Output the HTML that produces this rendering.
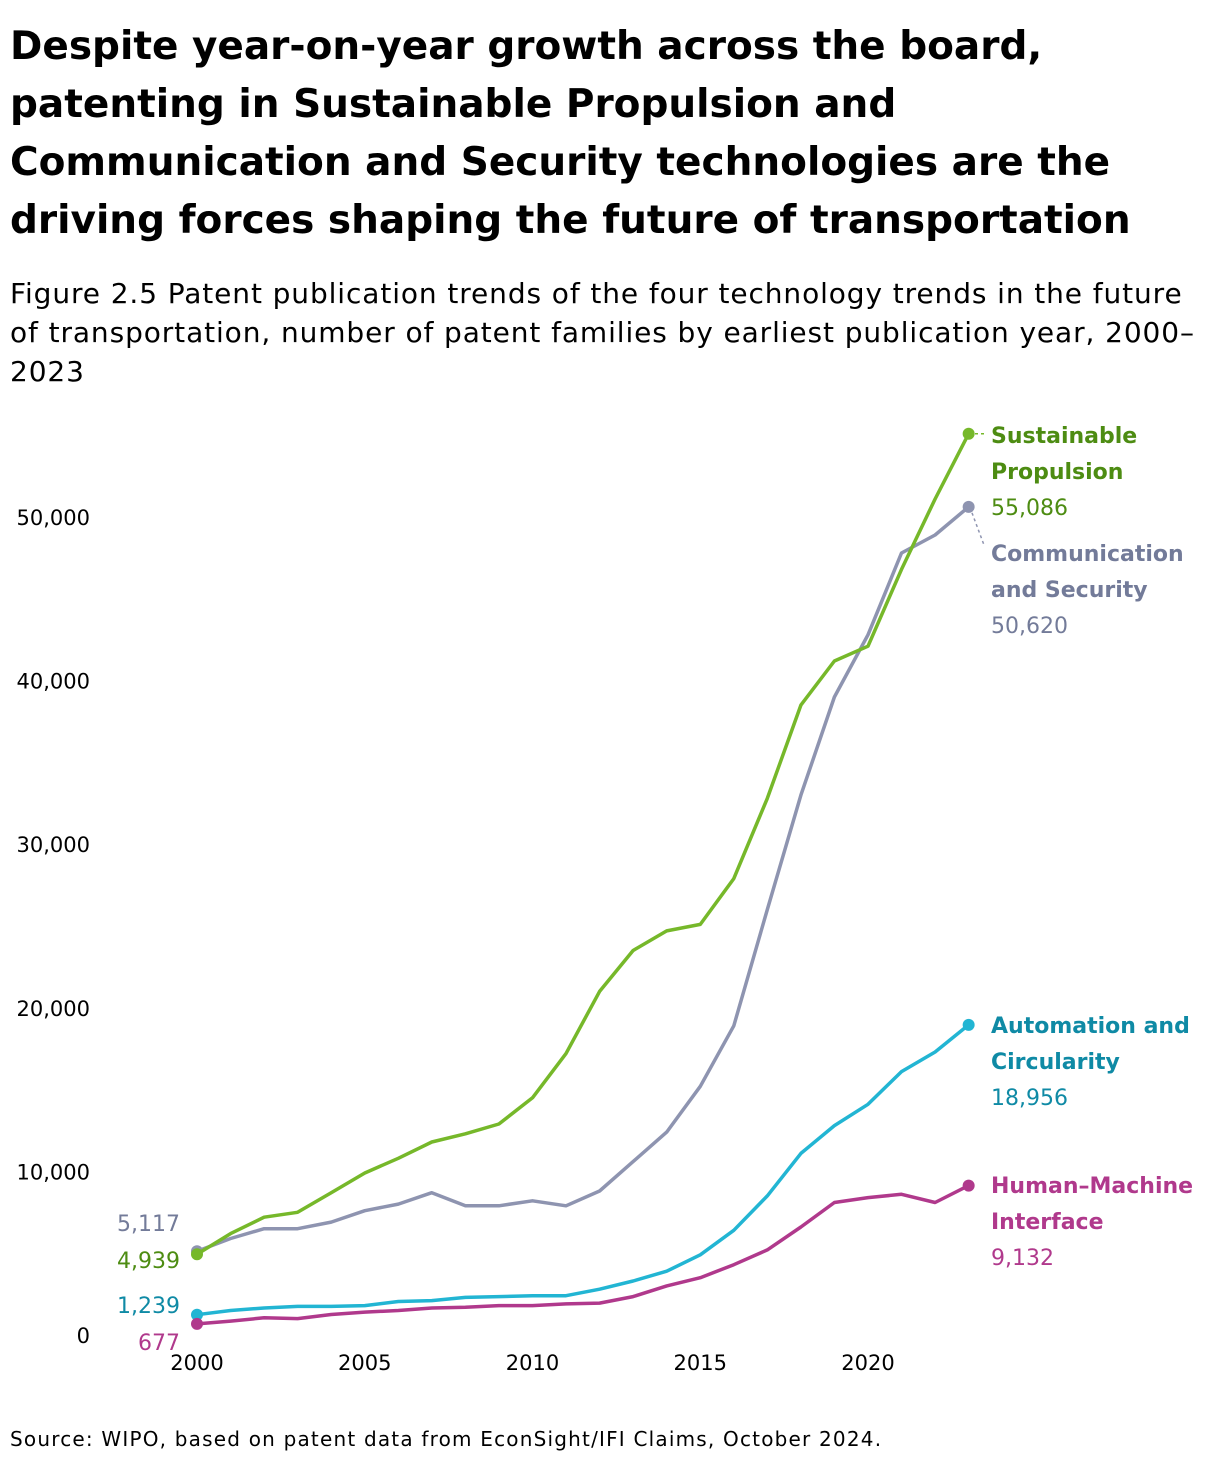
<!DOCTYPE html>
<html><head><meta charset="utf-8">
<style>
html,body{margin:0;padding:0;background:#fff;}
body{width:1220px;height:1466px;position:relative;font-family:"DejaVu Sans","Liberation Sans",sans-serif;color:#000;overflow:hidden;}
#title{position:absolute;left:10px;top:18px;width:1210px;font-size:39px;font-weight:bold;line-height:58px;margin:0;white-space:nowrap;}
#subtitle{position:absolute;left:10px;top:274px;width:1210px;font-size:28px;letter-spacing:0.9px;line-height:39px;margin:0;white-space:nowrap;}
#source{position:absolute;left:10px;top:1427px;font-size:20px;letter-spacing:1.2px;white-space:nowrap;}
svg{position:absolute;left:0;top:0;}
svg text{font-family:"DejaVu Sans","Liberation Sans",sans-serif;}
</style></head><body>
<h1 id="title">Despite year-on-year growth across the board,<br>patenting in Sustainable Propulsion and<br>Communication and Security technologies are the<br>driving forces shaping the future of transportation</h1>
<p id="subtitle">Figure 2.5 Patent publication trends of the four technology trends in the future<br>of transportation, number of patent families by earliest publication year, 2000–<br>2023</p>
<svg id="chart" width="1220" height="1466"></svg>
<div id="source">Source: WIPO, based on patent data from EconSight/IFI Claims, October 2024.</div>
<script>
const years = [2000,2001,2002,2003,2004,2005,2006,2007,2008,2009,2010,2011,2012,2013,2014,2015,2016,2017,2018,2019,2020,2021,2022,2023];
const sustainable = [4939,6200,7200,7500,8700,9900,10800,11800,12300,12900,14500,17200,21000,23500,24700,25100,27900,32800,38500,41200,42100,46800,51100,55086];
const communication = [5117,5900,6500,6500,6900,7600,8000,8700,7900,7900,8200,7900,8800,10600,12400,15200,18900,26000,33000,39000,42800,47800,48900,50620];
const automation = [1239,1500,1650,1750,1750,1800,2050,2100,2300,2350,2400,2400,2800,3300,3900,4900,6400,8500,11100,12800,14100,16100,17300,18956];
const human = [677,850,1050,1000,1250,1400,1500,1650,1700,1800,1800,1900,1950,2350,3000,3500,4300,5200,6600,8100,8400,8600,8100,9132];
const yTicks = [0,10000,20000,30000,40000,50000];
const xTicks = [2000,2005,2010,2015,2020];

const svg = document.getElementById('chart');
const NS = 'http://www.w3.org/2000/svg';
const x = yr => 197 + (yr - 2000) * 33.55;
const y = v => 1335 - v * 0.01636;
const fmt = v => v.toLocaleString('en-US');
function mk(tag, attrs, txt){const e=document.createElementNS(NS,tag);for(const k in attrs)e.setAttribute(k,attrs[k]);if(txt!==undefined)e.textContent=txt;svg.appendChild(e);return e;}

yTicks.forEach(t=>{
  const e=mk('text',{x:90,y:y(t)+8,'text-anchor':'end','font-size':21,fill:'#000'},fmt(t));
  
  
});
xTicks.forEach(t=>{
  const e=mk('text',{x:x(t),y:1370,'text-anchor':'middle','font-size':21,fill:'#000'},t);
  
  
});

const series = [
  {name:'communication',vals:communication,line:'#8e94b0',lab:'#737b99',title:['Communication','and Security'],ty:561,startY:1231},
  {name:'sustainable',vals:sustainable,line:'#76b82a',lab:'#4d8c12',title:['Sustainable','Propulsion'],ty:443,startY:1268},
  {name:'automation',vals:automation,line:'#22b5d3',lab:'#0f8aa5',title:['Automation and','Circularity'],ty:1033,startY:1313},
  {name:'human',vals:human,line:'#b0398c',lab:'#b0398c',title:['Human–Machine','Interface'],ty:1193,startY:1350}
];
series.forEach(s=>{
  const d=s.vals.map((v,i)=>(i?'L':'M')+x(years[i]).toFixed(1)+','+y(v).toFixed(1)).join(' ');
  const p=mk('path',{d:d,fill:'none',stroke:s.line,'stroke-width':3.5,'stroke-linejoin':'round'});
  
  
  const n=s.vals.length-1;
  [0,n].forEach(i=>{
    const c=mk('circle',{cx:x(years[i]),cy:y(s.vals[i]),r:6,fill:s.line});
    
    
  });
  const sl=mk('text',{x:180,y:s.startY,'text-anchor':'end','font-size':22,fill:s.lab},fmt(s.vals[0]));
  
  
  s.title.forEach((t,k)=>{
    const e=mk('text',{x:991,y:s.ty+k*36,'font-size':22,'font-weight':'bold',fill:s.lab},t);
    
    
  });
  const ev=mk('text',{x:991,y:s.ty+72,'font-size':22,fill:s.lab},fmt(s.vals[n]));
  
  
});
const l1=mk('line',{x1:975,y1:y(sustainable[23]),x2:984,y2:y(sustainable[23]),stroke:'#76b82a','stroke-width':1.5,'stroke-dasharray':'3,3'});


const l2=mk('line',{x1:972,y1:y(communication[23])+6,x2:984,y2:545,stroke:'#8e94b0','stroke-width':1.5,'stroke-dasharray':'3,3'});


</script>
</body></html>
